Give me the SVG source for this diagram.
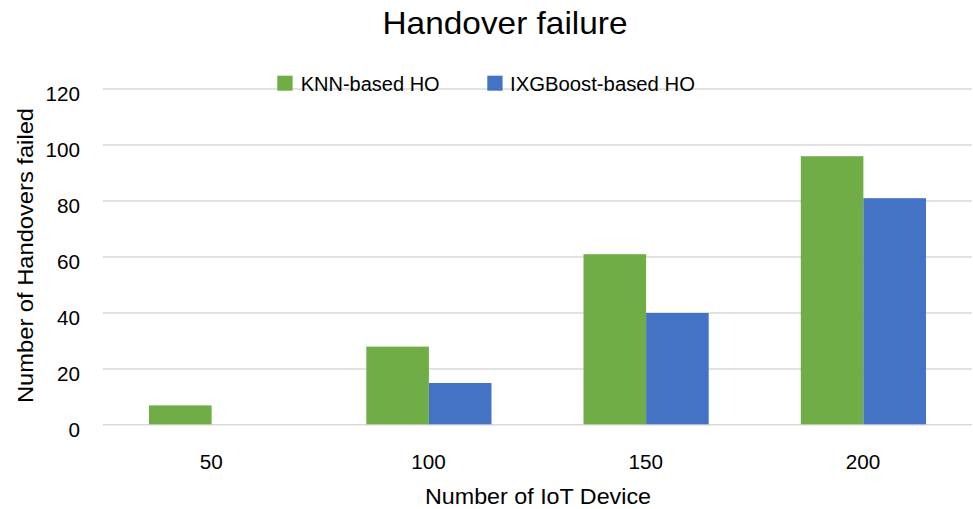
<svg xmlns="http://www.w3.org/2000/svg" width="973" height="509" viewBox="0 0 973 509">
  <style>
    text { font-family: "Liberation Sans", Arial, sans-serif; fill: #000; }
    .title { font-size: 32px; text-anchor: middle; }
    .tick { font-size: 20.7px; }
    .ytick { text-anchor: end; }
    .xtick { text-anchor: middle; }
    .axis-title { font-size: 22px; text-anchor: middle; }
    .legend { font-size: 20px; }
    .grid { stroke: #d9d9d9; stroke-width: 1.5; fill: none; }
    .knn { fill: #70ad47; }
    .xgb { fill: #4472c4; }
  </style>

  <rect width="973" height="509" fill="#ffffff"/>

  <!-- chart title -->
  <text class="title" x="505" y="34" textLength="245" lengthAdjust="spacingAndGlyphs">Handover failure</text>

  <!-- horizontal gridlines, 0..120 step 20 -->
  <g id="gridlines">
    <line class="grid" x1="103" y1="89" x2="972" y2="89"/>
    <line class="grid" x1="103" y1="145" x2="972" y2="145"/>
    <line class="grid" x1="103" y1="201" x2="972" y2="201"/>
    <line class="grid" x1="103" y1="257" x2="972" y2="257"/>
    <line class="grid" x1="103" y1="313" x2="972" y2="313"/>
    <line class="grid" x1="103" y1="369" x2="972" y2="369"/>
    <line class="grid" x1="103" y1="424.7" x2="972" y2="424.7"/>
  </g>

  <!-- y axis tick labels -->
  <g id="y-axis">
    <text class="tick ytick" x="80" y="100.7">120</text>
    <text class="tick ytick" x="80" y="156.7">100</text>
    <text class="tick ytick" x="80" y="212.7">80</text>
    <text class="tick ytick" x="80" y="268.7">60</text>
    <text class="tick ytick" x="80" y="324.7">40</text>
    <text class="tick ytick" x="80" y="380.7">20</text>
    <text class="tick ytick" x="80" y="436.7">0</text>
    <text class="axis-title" transform="translate(33,255.5) rotate(-90)" x="0" y="0" textLength="295" lengthAdjust="spacingAndGlyphs">Number of Handovers failed</text>
  </g>

  <!-- bars: KNN-based HO (green) and IXGBoost-based HO (blue) -->
  <g id="series-knn">
    <rect class="knn" x="149" y="405.4" width="62.6" height="18.9"/>
    <rect class="knn" x="366.3" y="346.6" width="62.6" height="77.7"/>
    <rect class="knn" x="583.5" y="254.2" width="62.6" height="170.1"/>
    <rect class="knn" x="800.8" y="156.2" width="62.6" height="268.1"/>
  </g>
  <g id="series-xgb">
    <rect class="xgb" x="428.9" y="383" width="62.6" height="41.3"/>
    <rect class="xgb" x="646.1" y="313" width="62.6" height="111.3"/>
    <rect class="xgb" x="863.4" y="198.2" width="62.6" height="226.1"/>
  </g>

  <!-- x axis category labels -->
  <g id="x-axis">
    <text class="tick xtick" x="211.3" y="468.5">50</text>
    <text class="tick xtick" x="428.5" y="468.5">100</text>
    <text class="tick xtick" x="645.7" y="468.5">150</text>
    <text class="tick xtick" x="863" y="468.5">200</text>
    <text class="axis-title" x="538" y="504" textLength="226" lengthAdjust="spacingAndGlyphs">Number of IoT Device</text>
  </g>

  <!-- legend -->
  <g id="legend">
    <rect class="knn" x="277.3" y="75.7" width="15.3" height="15"/>
    <text class="legend" x="300.7" y="90.5" textLength="139" lengthAdjust="spacingAndGlyphs">KNN-based HO</text>
    <rect class="xgb" x="487.3" y="75.7" width="15.3" height="15"/>
    <text class="legend" x="510" y="90.5" textLength="185" lengthAdjust="spacingAndGlyphs">IXGBoost-based HO</text>
  </g>
</svg>
